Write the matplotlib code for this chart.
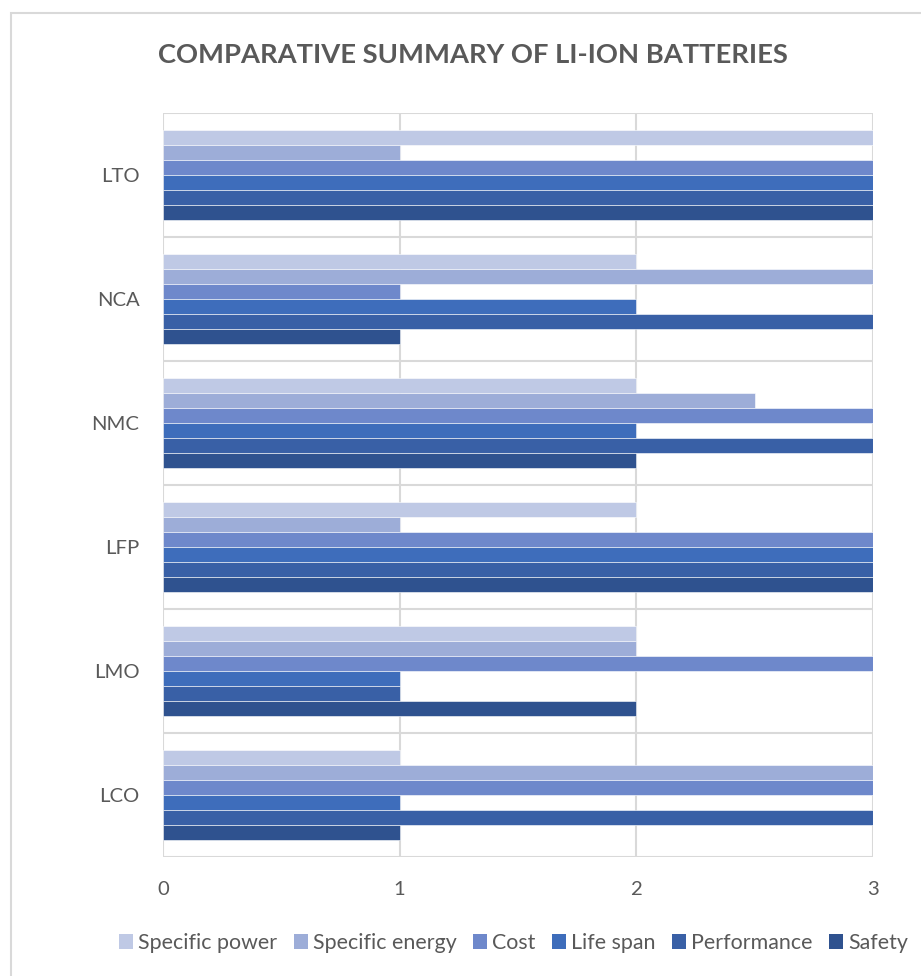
import matplotlib
matplotlib.use("Agg")
import matplotlib.pyplot as plt
from matplotlib.patches import Rectangle, Patch
import numpy as np

categories = ["LCO", "LMO", "LFP", "NMC", "NCA", "LTO"]
series_names = ["Specific power", "Specific energy", "Cost", "Life span", "Performance", "Safety"]
specific_power = [1, 2, 2, 2, 2, 3]
specific_energy = [3, 2, 1, 2.5, 3, 1]
cost = [3, 3, 3, 3, 1, 3]
life_span = [1, 1, 3, 2, 2, 3]
performance = [3, 1, 3, 3, 3, 3]
safety = [1, 2, 3, 2, 1, 3]
x_ticks = [0, 1, 2, 3]

series = [specific_power, specific_energy, cost, life_span, performance, safety]
colors = ["#BFC9E5", "#9DADD8", "#6E88CB", "#3E6DBB", "#3960A6", "#2F528F"]

W, H = 921, 976
fig = plt.figure(figsize=(W / 100, H / 100), dpi=100)
fig.patch.set_facecolor("white")

# outer chart border
fig.patches.append(Rectangle((11 / W, 1 - 1000 / H), 1.0, (1000 - 13) / H,
                             transform=fig.transFigure, fill=False,
                             edgecolor="#D9D9D9", linewidth=1.5))

ax = fig.add_axes([163 / W, 1 - 857 / H, (873 - 163) / W, (857 - 113) / H])
text_color = "#595959"
font = "Lato"

n = len(series)
bar_h = 0.726 / n
y = np.arange(len(categories))
for j, (vals, c, name) in enumerate(zip(series, colors, series_names)):
    offs = ((n - 1) / 2 - j) * bar_h
    ax.barh(y + offs, vals, height=bar_h, color=c, edgecolor="white",
            linewidth=0.4, label=name, zorder=3)

ax.set_xlim(0, 3)
ax.set_ylim(-0.5, len(categories) - 0.5)
for xv in x_ticks:
    ax.axvline(xv, color="#D9D9D9", linewidth=1.5, zorder=1)
for yv in np.arange(-0.5, len(categories), 1.0):
    ax.axhline(yv, color="#D9D9D9", linewidth=1.5, zorder=1)
for s in ax.spines.values():
    s.set_visible(False)

ax.set_xticks(x_ticks)
ax.set_xticklabels([str(v) for v in x_ticks], fontsize=14.6, color=text_color, fontname=font)
ax.set_yticks(y)
ax.set_yticklabels(categories, fontsize=14.6, color=text_color, fontname=font)
ax.tick_params(axis="x", length=0, pad=17)
ax.tick_params(axis="y", length=0, pad=17)

fig.text(473 / W, 1 - 55 / H, "COMPARATIVE SUMMARY OF LI-ION BATTERIES",
         ha="center", va="center", fontsize=19.7, fontweight="bold",
         color=text_color, fontname=font)

handles = [Patch(facecolor=c, edgecolor="none") for c in colors]
leg = fig.legend(handles, series_names, loc="center left",
                 bbox_to_anchor=(119 / W, 1 - 943 / H), ncol=6, frameon=False,
                 handlelength=0.66, handleheight=0.66, handletextpad=0.24,
                 columnspacing=0.76, borderaxespad=0, borderpad=0,
                 prop={"family": font, "size": 15.4})
for t in leg.get_texts():
    t.set_color(text_color)

fig.savefig("out.png", dpi=100, facecolor="white")
